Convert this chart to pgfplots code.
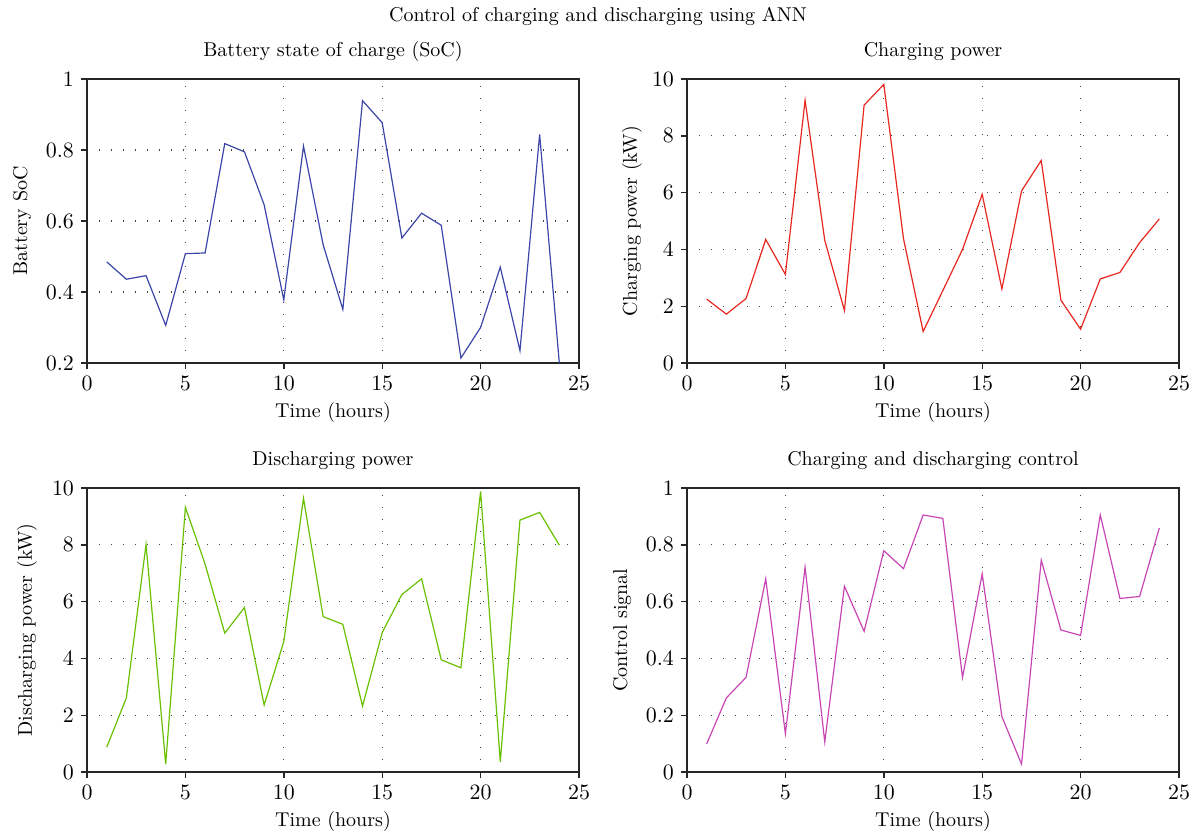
\documentclass[border=0pt]{standalone}
\usepackage{pgfplots}
\pgfplotsset{compat=1.18}
\definecolor{socblue}{RGB}{60,70,168}
\definecolor{chred}{RGB}{230,40,32}
\definecolor{dchgreen}{RGB}{104,192,0}
\definecolor{ctrlmag}{RGB}{200,70,180}
\pgfplotsset{
  panel/.style={
    scale only axis, width=246pt, height=142pt,
    xmin=0, xmax=25, xtick={0,5,...,25},
    tick align=outside, xtick pos=left, ytick pos=left,
    major tick length=3pt,
    axis line style={line width=0.8pt, black!85},
    major tick style={line width=0.7pt, black!85},
    grid=major,
    major grid style={black!75, line width=0.6pt, dash pattern=on 0.6pt off 5.4pt},
    /pgf/number format/fixed,
    title style={at={(axis description cs:0.5,1.053)}, anchor=center},
    xlabel style={at={(axis description cs:0.5,-0.176)}, anchor=center},
    xlabel={Time (hours)},
    tick label style={font=\fontsize{11}{13}\selectfont},
  },
}
\begin{document}
\begin{tikzpicture}
\useasboundingbox (0,0) rectangle (598pt,418.5pt);
\node[anchor=center] at (299pt,410.5pt) {Control of charging and discharging using ANN};

\begin{axis}[panel, at={(43.5pt,237pt)}, anchor=south west,
  ymin=0.2, ymax=1, ytick={0.2,0.4,...,1.0},
  title={Battery state of charge (SoC)}, ylabel={Battery SoC},
  ylabel style={at={(axis description cs:-0.132,0.5)}, anchor=center}]
\addplot[socblue, line width=0.6pt] coordinates {
(1,0.485) (2,0.436) (3,0.446) (4,0.306) (5,0.508) (6,0.510) (7,0.818) (8,0.795)
(9,0.646) (10,0.378) (11,0.811) (12,0.533) (13,0.351) (14,0.939) (15,0.877) (16,0.552)
(17,0.622) (18,0.588) (19,0.214) (20,0.300) (21,0.470) (22,0.235) (23,0.844) (24,0.200)};
\end{axis}

\begin{axis}[panel, at={(343.5pt,237pt)}, anchor=south west,
  ymin=0, ymax=10, ytick={0,2,...,10},
  title={Charging power}, ylabel={Charging power (kW)},
  ylabel style={at={(axis description cs:-0.112,0.5)}, anchor=center}]
\addplot[chred, line width=0.6pt] coordinates {
(1,2.25) (2,1.72) (3,2.27) (4,4.35) (5,3.12) (6,9.25) (7,4.32) (8,1.85)
(9,9.08) (10,9.81) (11,4.38) (12,1.11) (13,2.55) (14,4.00) (15,5.94) (16,2.61)
(17,6.06) (18,7.13) (19,2.21) (20,1.19) (21,2.96) (22,3.19) (23,4.24) (24,5.07)};
\end{axis}

\begin{axis}[panel, at={(43.5pt,32.5pt)}, anchor=south west,
  ymin=0, ymax=10, ytick={0,2,...,10},
  title={Discharging power}, ylabel={Discharging power (kW)},
  ylabel style={at={(axis description cs:-0.122,0.5)}, anchor=center}]
\addplot[dchgreen, line width=0.6pt] coordinates {
(1,0.87) (2,2.61) (3,8.01) (4,0.28) (5,9.32) (6,7.32) (7,4.89) (8,5.79)
(9,2.36) (10,4.59) (11,9.64) (12,5.47) (13,5.20) (14,2.32) (15,4.91) (16,6.25)
(17,6.80) (18,3.95) (19,3.67) (20,9.88) (21,0.36) (22,8.87) (23,9.14) (24,7.99)};
\end{axis}

\begin{axis}[panel, at={(343.5pt,32.5pt)}, anchor=south west,
  ymin=0, ymax=1, ytick={0,0.2,...,1.0},
  title={Charging and discharging control}, ylabel={Control signal},
  ylabel style={at={(axis description cs:-0.132,0.5)}, anchor=center}]
\addplot[ctrlmag, line width=0.6pt] coordinates {
(1,0.099) (2,0.261) (3,0.333) (4,0.680) (5,0.135) (6,0.721) (7,0.106) (8,0.654)
(9,0.495) (10,0.779) (11,0.716) (12,0.905) (13,0.893) (14,0.333) (15,0.698) (16,0.195)
(17,0.028) (18,0.746) (19,0.500) (20,0.481) (21,0.905) (22,0.611) (23,0.618) (24,0.859)};
\end{axis}
\end{tikzpicture}
\end{document}
